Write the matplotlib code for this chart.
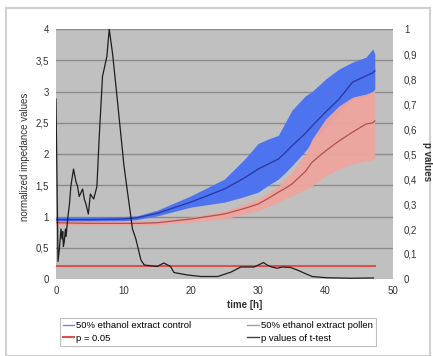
import numpy as np
import matplotlib.pyplot as plt
from matplotlib.lines import Line2D
from matplotlib.patches import Rectangle

plt.rcParams['font.family'] = ['Liberation Sans', 'DejaVu Sans']

# impedance bands (left axis)
t_band = [0, 5, 10, 12, 15, 20, 25, 28, 30, 31.5, 33, 34, 35, 37, 38, 40, 42, 44, 46, 47, 47.3]
ctrl_hi = [0.99, 0.99, 1.0, 1.01, 1.1, 1.33, 1.6, 1.92, 2.17, 2.24, 2.3, 2.5, 2.7, 2.93, 3.0, 3.2, 3.36, 3.47, 3.55, 3.68, 3.6]
ctrl_mean = [0.95, 0.95, 0.96, 0.98, 1.05, 1.23, 1.44, 1.62, 1.76, 1.84, 1.92, 2.02, 2.13, 2.33, 2.45, 2.67, 2.88, 3.15, 3.25, 3.3, 3.33]
ctrl_lo = [0.92, 0.92, 0.93, 0.95, 1.01, 1.15, 1.23, 1.32, 1.39, 1.5, 1.6, 1.7, 1.81, 2.05, 2.19, 2.4, 2.67, 2.88, 2.93, 3.0, 3.04]
poll_hi = [0.93, 0.93, 0.93, 0.93, 0.94, 0.99, 1.09, 1.2, 1.28, 1.38, 1.49, 1.6, 1.71, 2.0, 2.24, 2.56, 2.77, 2.91, 2.96, 3.0, 3.01]
poll_mean = [0.9, 0.89, 0.89, 0.89, 0.9, 0.96, 1.04, 1.13, 1.2, 1.29, 1.39, 1.45, 1.52, 1.72, 1.87, 2.05, 2.21, 2.35, 2.48, 2.5, 2.53]
poll_lo = [0.87, 0.86, 0.86, 0.86, 0.87, 0.91, 0.96, 1.04, 1.09, 1.16, 1.23, 1.28, 1.33, 1.43, 1.49, 1.65, 1.76, 1.84, 1.89, 1.91, 1.92]

# p values of t-test (right axis)
t_p = [0, 0.3, 0.5, 0.74, 0.9, 1.0, 1.1, 1.23, 1.4, 1.5, 1.73, 2.0, 2.2, 2.6, 2.96, 3.2, 3.45, 3.95, 4.2, 4.44,
       4.8, 5.1, 5.6, 6.07, 6.4, 6.9, 7.55, 7.9, 8.4, 8.9, 9.5, 10.1, 10.9, 11.35, 11.85, 12.6, 13.1, 15, 16,
       17, 17.5, 19.5, 21.5, 24, 26, 27.4, 29.4, 30.8, 31.3, 32, 32.8, 33.6, 34.8, 35.8, 36.8, 38, 40.2, 43.7, 47.1]
p_val = [0.72, 0.07, 0.12, 0.2, 0.16, 0.19, 0.13, 0.15, 0.2, 0.17, 0.24, 0.3, 0.37, 0.44, 0.39, 0.37, 0.33, 0.36,
         0.32, 0.3, 0.26, 0.34, 0.32, 0.37, 0.56, 0.81, 0.89, 1.0, 0.9, 0.77, 0.61, 0.45, 0.29, 0.2, 0.16, 0.076,
         0.056, 0.05, 0.064, 0.05, 0.026, 0.016, 0.01, 0.01, 0.028, 0.048, 0.048, 0.066, 0.056, 0.048, 0.043,
         0.048, 0.046, 0.036, 0.024, 0.01, 0.005, 0.003, 0.004]
p_limit = 0.05
t_limit = [0, 47.3]

fig = plt.figure(figsize=(4.33, 3.56), dpi=100)
fig.patches.append(Rectangle((0.014, 0.0), 0.98, 0.978, transform=fig.transFigure,
                             fill=False, edgecolor='#d0d0d0', linewidth=1.5))

ax = fig.add_axes([0.1293, 0.2163, 0.7783, 0.7022])
ax.set_facecolor('#c0c0c0')
for yv in np.arange(0.5, 4.01, 0.5):
    ax.axhline(yv, color='#8c8c8c', linewidth=1, zorder=0.5)

ax.fill_between(t_band, ctrl_lo, ctrl_hi, color='#4d74ee', linewidth=0, zorder=2)
ax.plot(t_band, ctrl_mean, color='#2a3aa8', linewidth=1, zorder=3)
ax.fill_between(t_band, poll_lo, poll_hi, color='#eea59e', linewidth=0, alpha=0.95, zorder=2.5)
ax.plot(t_band, poll_mean, color='#b05050', linewidth=0.9, zorder=3)

ax.set_xlim(0, 50)
ax.set_ylim(0, 4)
ax.set_xticks(range(0, 51, 10))
yt = np.arange(0, 4.01, 0.5)
ax.set_yticks(yt)
ax.set_yticklabels([('%g' % v).replace('.', ',') for v in yt])
ax.tick_params(length=0, labelsize=7, colors='#333333', pad=5)
for s in ax.spines.values():
    s.set_visible(False)

ax2 = ax.twinx()
ax2.plot(t_limit, [p_limit, p_limit], color='#e0504e', linewidth=1.5)
ax2.plot(t_p, p_val, color='#1e1e1e', linewidth=0.9)
ax2.set_ylim(0, 1)
pt = np.arange(0, 1.001, 0.1)
ax2.set_yticks(pt)
ax2.set_yticklabels([('%g' % round(v, 1)).replace('.', ',') for v in pt])
ax2.tick_params(length=0, labelsize=7, colors='#333333', pad=8)
for s in ax2.spines.values():
    s.set_visible(False)

fig.text(0.565, 0.143, 'time [h]', fontsize=7, fontweight='bold', color='#333333', ha='center', va='center')
fig.text(0.058, 0.56, 'normalized impedance values', fontsize=7, rotation=90, color='#333333', ha='center', va='center')
fig.text(0.985, 0.545, 'p values', fontsize=7, fontweight='bold', rotation=-90, color='#333333', ha='center', va='center')

handles = [Line2D([], [], color='#8080e0', linewidth=1),
           Line2D([], [], color='#e0504e', linewidth=1.5),
           Line2D([], [], color='#a0a0a0', linewidth=1),
           Line2D([], [], color='#404040', linewidth=1)]
labels = ['50% ethanol extract control', 'p = 0.05', '50% ethanol extract pollen', 'p values of t-test']
leg = fig.legend(handles, labels, ncol=2, loc='lower left', bbox_to_anchor=(0.127, 0.015, 0.752, 0.095),
                 mode='expand', fontsize=6.8, frameon=True, fancybox=False, handlelength=1.2,
                 handletextpad=0.2, borderpad=0.35, labelspacing=0.35, columnspacing=1.0)
leg.get_frame().set_edgecolor('#b0b0b0')
leg.get_frame().set_linewidth(0.8)

fig.savefig('out.png', dpi=100)
